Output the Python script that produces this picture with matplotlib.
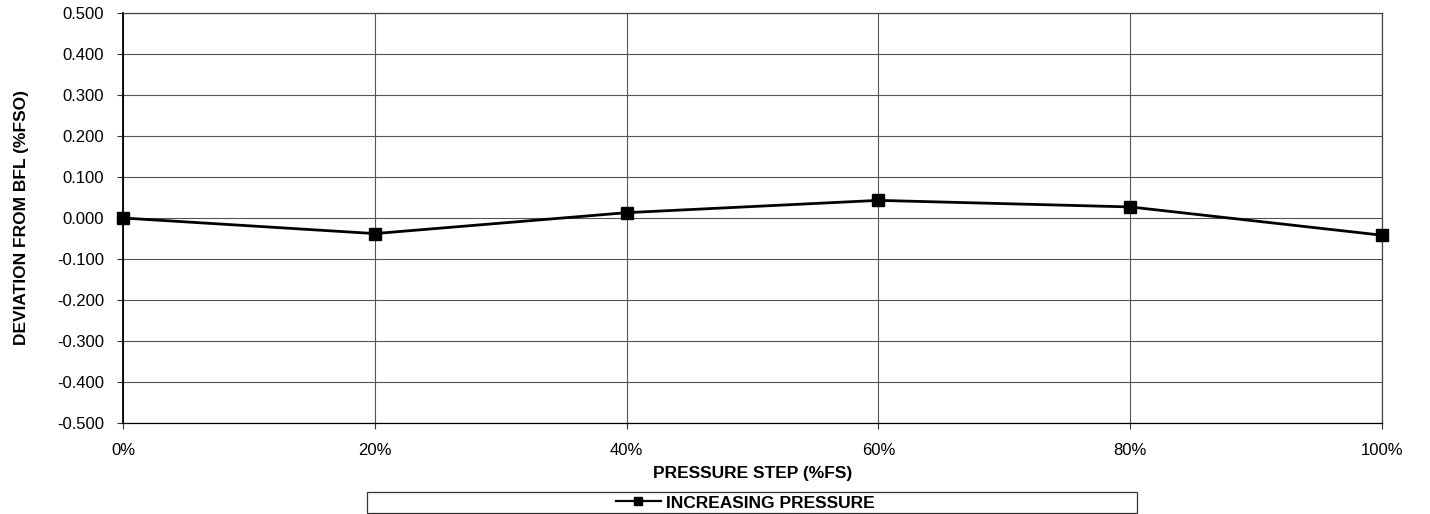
import matplotlib
matplotlib.use("Agg")
import matplotlib.pyplot as plt
from matplotlib.lines import Line2D
from matplotlib.patches import Rectangle

# data
steps = [0, 20, 40, 60, 80, 100]
step_labels = ["0%", "20%", "40%", "60%", "80%", "100%"]
deviation = [0.000, -0.038, 0.013, 0.043, 0.027, -0.042]
y_ticks = [0.5, 0.4, 0.3, 0.2, 0.1, 0.0, -0.1, -0.2, -0.3, -0.4, -0.5]
series_name = "INCREASING PRESSURE"

plt.rcParams["font.family"] = ["Liberation Sans", "DejaVu Sans"]

W, H = 1430, 514
fig = plt.figure(figsize=(W / 100, H / 100), dpi=100)
ax = fig.add_axes([123 / W, 1 - 423 / H, (1382 - 123) / W, (423 - 13) / H])

ax.plot(steps, deviation, color="black", lw=2, marker="s", ms=8.5,
        clip_on=False, zorder=5)

ax.set_xlim(0, 100)
ax.set_ylim(-0.5, 0.5)
ax.set_xticks(steps)
ax.set_xticklabels(step_labels)
ax.set_yticks(y_ticks)
ax.set_yticklabels([f"{v:.3f}" for v in y_ticks])
ax.tick_params(axis="both", labelsize=12, direction="out", length=4.5,
               width=0.8, color="#333333")
ax.tick_params(axis="y", pad=9)
ax.tick_params(axis="x", pad=10)
ax.grid(True, color="#555555", lw=0.8)
ax.set_axisbelow(True)
for sp in ax.spines.values():
    sp.set_color("#444444")
    sp.set_linewidth(0.9)
ax.spines["left"].set_color("black")
ax.spines["left"].set_linewidth(1.3)
ax.spines["bottom"].set_color("black")

ax.set_xlabel("PRESSURE STEP (%FS)", fontsize=12.5, fontweight="bold", labelpad=6)
ax.set_ylabel("DEVIATION FROM BFL (%FSO)", fontsize=12.5, fontweight="bold",
              labelpad=20)

# legend: wide thin box under the axis label
fig.patches.append(Rectangle((367 / W, 1 - 513 / H), (1137 - 367) / W, (513 - 492) / H,
                             transform=fig.transFigure, fill=False,
                             edgecolor="#333333", lw=0.9))
handle = Line2D([], [], color="black", lw=1.6, marker="s", ms=6)
fig.legend([handle], [series_name], loc="center", bbox_to_anchor=(745 / W, 1 - 503 / H),
           frameon=False, prop={"weight": "bold", "size": 12.5},
           handlelength=2.6, handletextpad=0.3, borderpad=0)

fig.savefig("out.png", dpi=100)
